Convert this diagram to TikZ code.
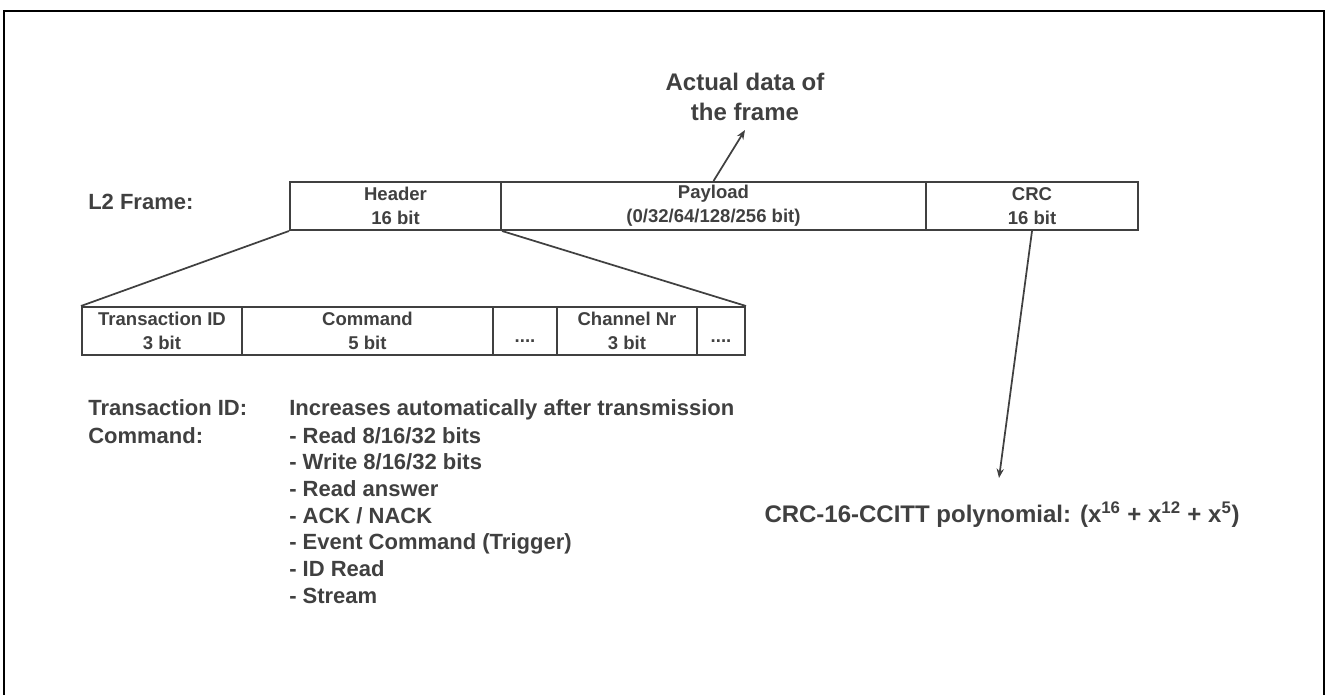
\documentclass[tikz,border=0pt]{standalone}
\usepackage{fontspec}
\setmainfont{Liberation Sans}
\usetikzlibrary{arrows.meta}
\definecolor{ink}{HTML}{404040}
\begin{document}
\begin{tikzpicture}[x=0.75pt,y=-0.75pt,
  cell/.style={draw=ink, line width=1.5pt, inner sep=0pt, align=center,
    font=\fontsize{13.9}{18}\selectfont\bfseries, text=ink, minimum height=48*0.75pt},
  lbl/.style={anchor=base west, inner sep=0pt, font=\fontsize{16.5}{20}\selectfont\bfseries, text=ink},
  big/.style={inner sep=0pt, font=\fontsize{18}{22.5}\selectfont\bfseries, text=ink, align=center},
  conn/.style={draw=ink, line width=1.3pt},
  arr/.style={conn, -{Stealth[length=7pt,width=5.5pt]}}
]
\useasboundingbox (0,0) rectangle (1328,695);
% outer frame (open at the bottom)
\draw[black, line width=2pt] (4,720) -- (4,11) -- (1324,11) -- (1324,720);

% L2 frame
\node[lbl] (l2) at (88,210) {L2 Frame:};
\node[cell, minimum width=211*0.75pt] (hdr) at (395.5,206) {Header\\16 bit};
\node[cell, minimum width=425*0.75pt] (pay) at (713.5,206) {Payload\\(0/32/64/128/256 bit)};
\node[cell, minimum width=212*0.75pt] (crc) at (1032,206) {CRC\\16 bit};

% note above payload
\node[big] (note) at (745,97) {Actual data of\\the frame};
\coordinate (notetip) at (745,130);
\draw[arr] (pay.north) -- (notetip);

% header breakdown
\node[cell, minimum width=160*0.75pt] (tx) at (162,331) {Transaction ID\\3 bit};
\node[cell, minimum width=251*0.75pt] (cmd) at (367.5,331) {Command\\5 bit};
\node[cell, minimum width=64*0.75pt] (d1) at (525,331) {\\....};
\node[cell, minimum width=140*0.75pt] (ch) at (627,331) {Channel Nr\\3 bit};
\node[cell, minimum width=48*0.75pt] (d2) at (721,331) {\\....};
\draw[conn] (hdr.south west) -- (tx.north west);
\draw[conn] (hdr.south east) -- (d2.north east);

% descriptions
\node[lbl] (txl) at (88,415) {Transaction ID:};
\node[lbl] (txd) at (289,415) {Increases automatically after transmission};
\node[lbl] (cmdl) at (88,443) {Command:};
\foreach \t [count=\i from 0] in {- Read 8/16/32 bits, - Write 8/16/32 bits, - Read answer,
  - ACK / NACK, - Event Command (Trigger), - ID Read, - Stream}
  \node[lbl] (c\i) at (289,443+26.7*\i) {\t};

% CRC polynomial
\node[big, anchor=base] (poly) at (1002,522) {CRC-16-CCITT polynomial: (x\textsuperscript{16} + x\textsuperscript{12} + x\textsuperscript{5})};
\coordinate (polytip) at (999,478);
\draw[arr] (crc.south) -- (polytip);
\end{tikzpicture}
\end{document}
